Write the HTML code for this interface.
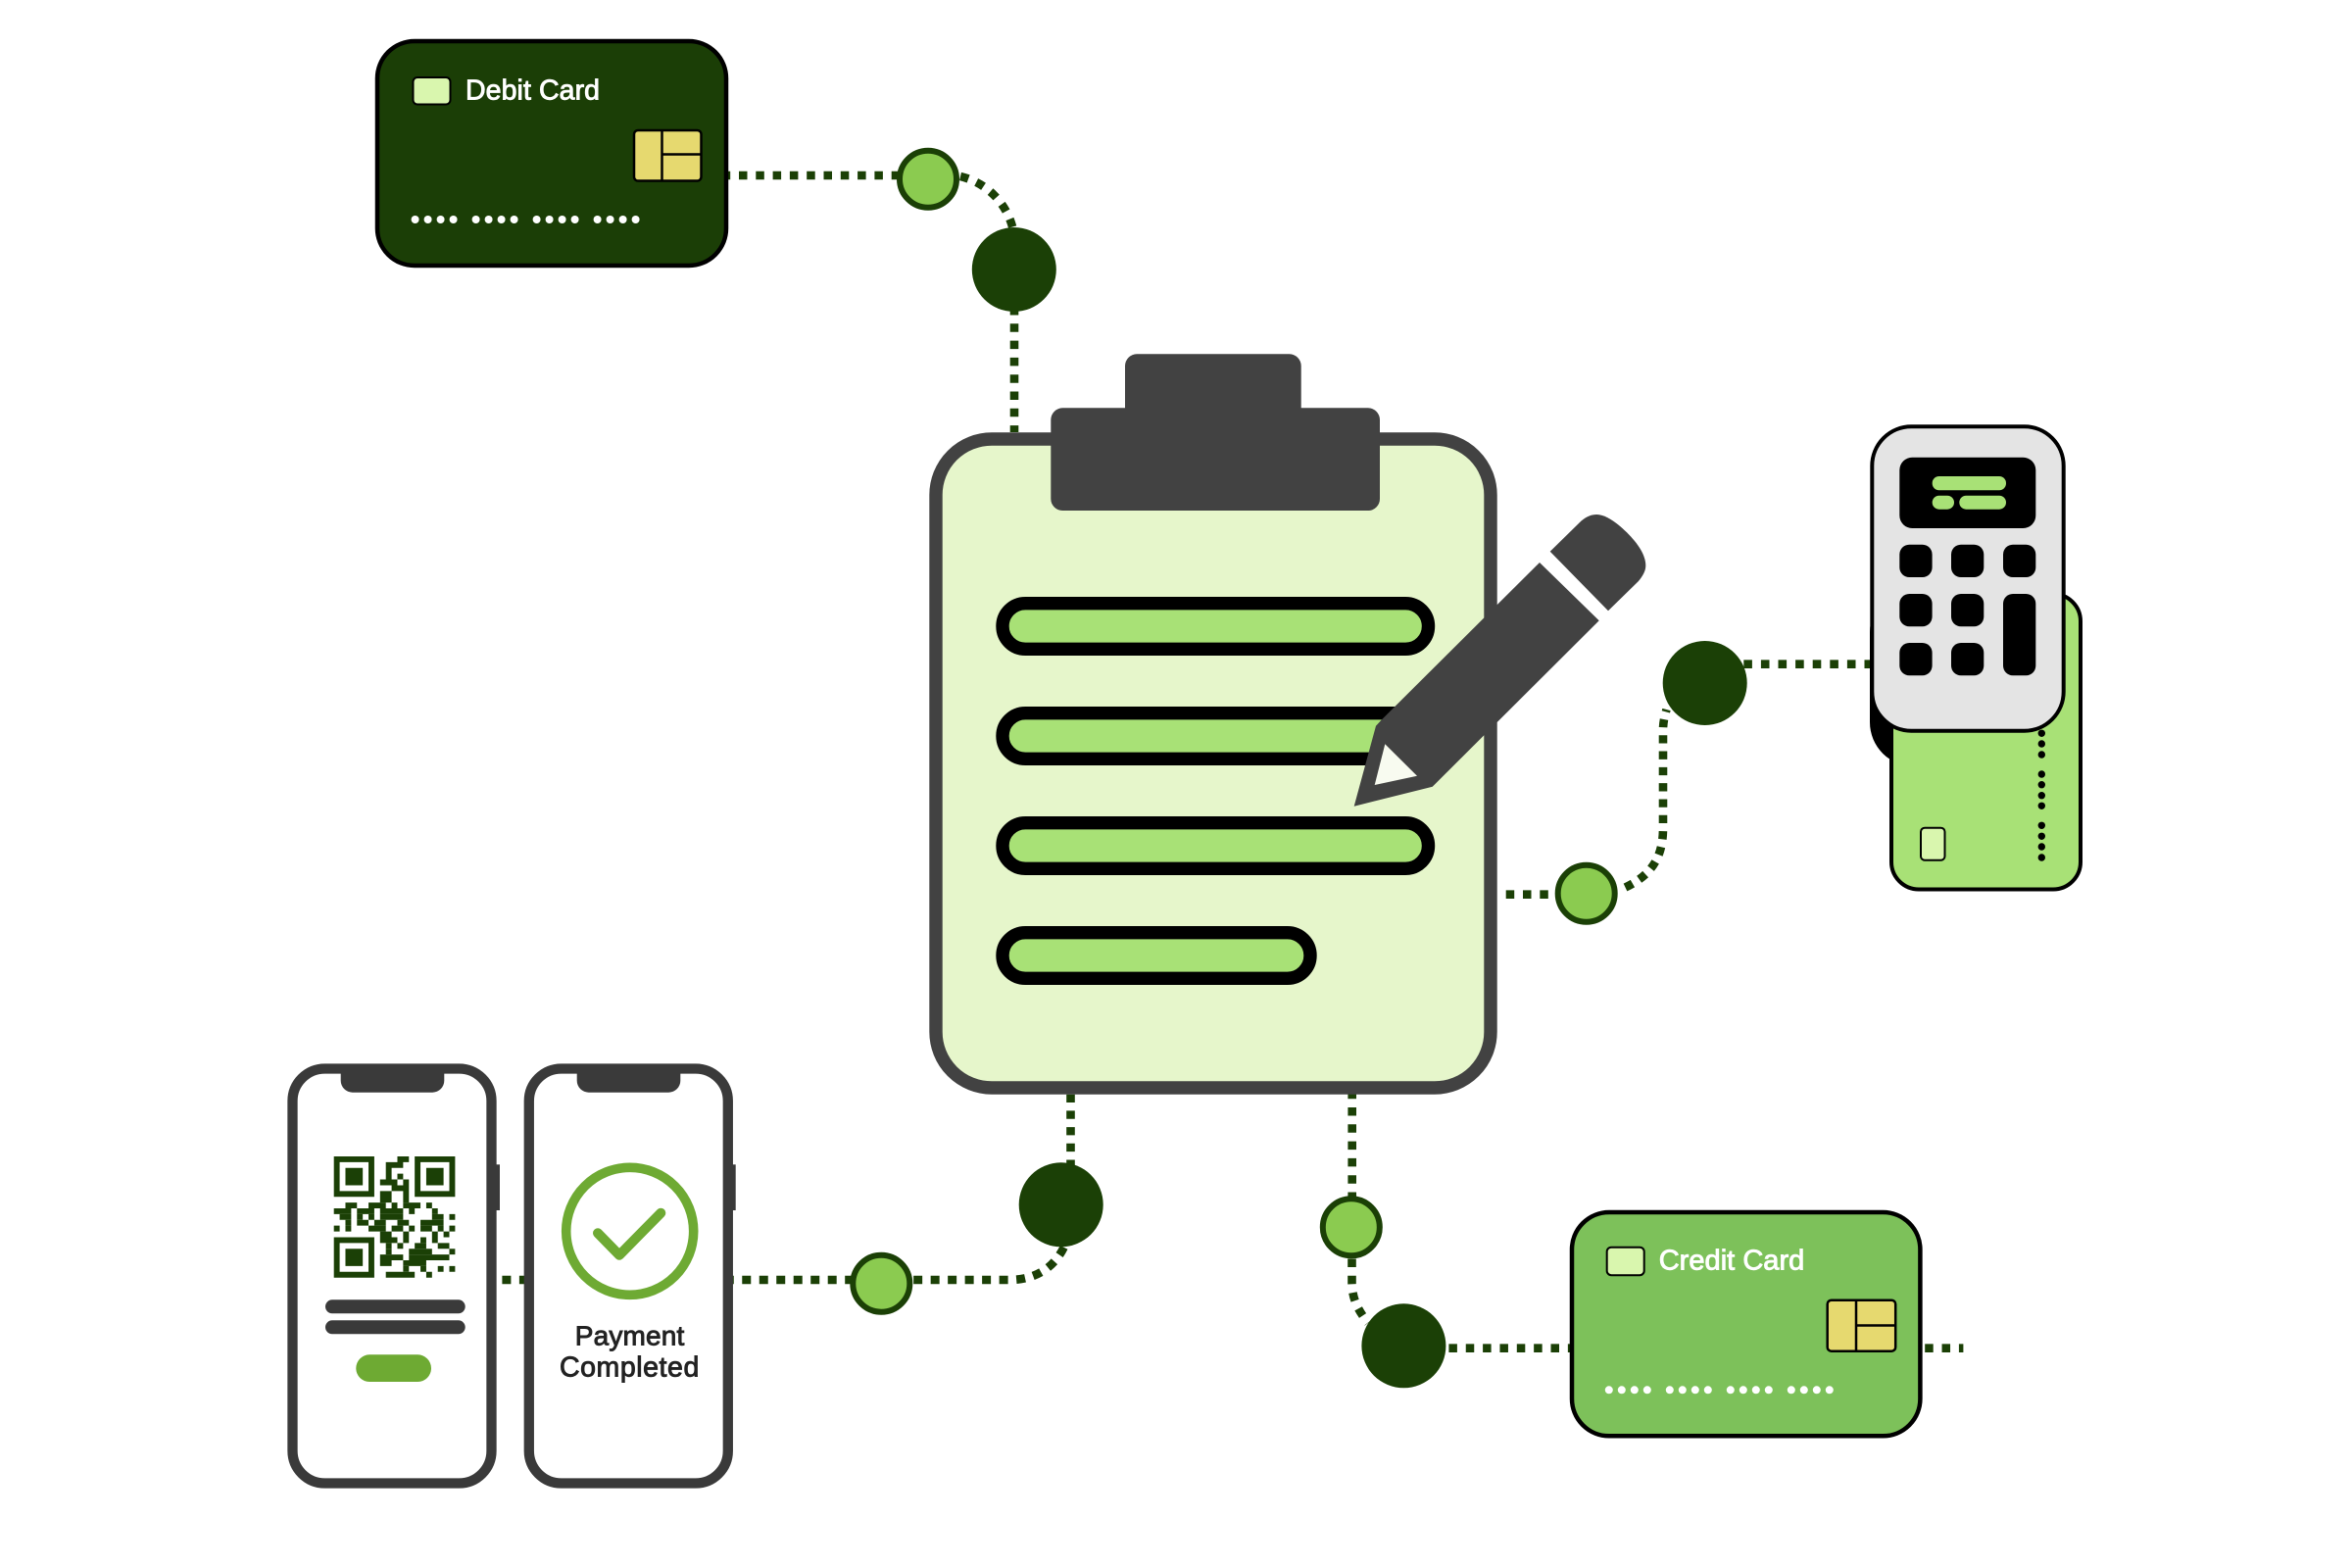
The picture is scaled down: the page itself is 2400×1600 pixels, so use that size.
<!DOCTYPE html>
<html>
<head>
<meta charset="utf-8">
<title>Payment Diagram</title>
<style>
html,body{margin:0;padding:0;background:#fff;width:2400px;height:1600px;overflow:hidden}
svg{display:block}
text{font-family:"Liberation Sans",sans-serif}
.c{fill:none;stroke:#1b4006;stroke-width:8.6;stroke-dasharray:8.5 8.8}
.dk{fill:#1b4006}
.lt{fill:#8bcb50;stroke:#1b4006;stroke-width:6}
.w{fill:#fff}
</style>
</head>
<body>
<svg width="2400" height="1600" viewBox="0 0 2400 1600" xmlns="http://www.w3.org/2000/svg">
<rect width="2400" height="1600" fill="#fff"/>

<!-- connectors -->
<path class="c" d="M736.7 179H950"/>
<path class="c" d="M980 180C1005 186 1027 205 1034 235"/>
<path class="c" d="M1035 313V441"/>
<path class="c" style="stroke-dasharray:8.3 8.4" d="M1092.5 1116.7V1190"/>
<path class="c" style="stroke-dasharray:9 8.49" d="M512.4 1306H1030C1055 1306 1075 1295 1086 1272"/>
<path class="c" d="M1379.7 1112.7V1225"/>
<path class="c" d="M1379.5 1284.5V1310C1380 1325 1385 1336 1396 1350"/>
<path class="c" style="stroke-dasharray:8.5 8.85" d="M1478.4 1375.7H2003.4"/>
<path class="c" style="stroke-dasharray:8.6 9" d="M1779.3 677.7H1908"/>
<path class="c" d="M1536.7 912.7H1590"/>
<path class="c" style="stroke-dasharray:8.3 8" d="M1658.5 905.5C1685 893 1697 875 1697 845V745C1697 738 1698 733 1700.5 724"/>

<!-- circles -->
<circle class="lt" cx="947" cy="182.7" r="29"/>
<circle class="dk" cx="1034.8" cy="275" r="43"/>
<circle class="dk" cx="1082.7" cy="1229.3" r="43"/>
<circle class="lt" cx="899.3" cy="1309.7" r="29"/>
<circle class="lt" cx="1378.8" cy="1252.3" r="29"/>
<circle class="dk" cx="1432.4" cy="1373.3" r="43"/>
<circle class="dk" cx="1739.7" cy="697" r="43"/>
<circle class="lt" cx="1618.7" cy="911.7" r="29"/>

<!-- debit card -->
<rect x="385" y="42" width="356" height="229" rx="38" fill="#1b3e06" stroke="#000" stroke-width="4.5"/>
<rect x="421.5" y="79" width="38" height="27.5" rx="4.5" fill="#d9f6ae" stroke="#000" stroke-width="2"/>
<text x="475" y="101.7" font-size="28.5" fill="#fff" stroke="#fff" stroke-width=".9" textLength="137" lengthAdjust="spacing">Debit Card</text>
<rect x="647" y="133" width="68.5" height="51.5" rx="4" fill="#e6d96f" stroke="#000" stroke-width="2.5"/>
<path d="M675.5 133V184.5M675.5 157.5H715.5" fill="none" stroke="#000" stroke-width="2.5"/>
<g class="w">
<circle cx="423.6" cy="224" r="4"/><circle cx="436.6" cy="224" r="4"/><circle cx="449.6" cy="224" r="4"/><circle cx="462.6" cy="224" r="4"/>
<circle cx="485.6" cy="224" r="4"/><circle cx="498.6" cy="224" r="4"/><circle cx="511.6" cy="224" r="4"/><circle cx="524.6" cy="224" r="4"/>
<circle cx="547.6" cy="224" r="4"/><circle cx="560.6" cy="224" r="4"/><circle cx="573.6" cy="224" r="4"/><circle cx="586.6" cy="224" r="4"/>
<circle cx="609.6" cy="224" r="4"/><circle cx="622.6" cy="224" r="4"/><circle cx="635.6" cy="224" r="4"/><circle cx="648.6" cy="224" r="4"/>
</g>

<!-- credit card -->
<rect x="1604" y="1237" width="355.4" height="228.3" rx="38" fill="#7dc15a" stroke="#000" stroke-width="4.5"/>
<rect x="1639.7" y="1272.7" width="38" height="28.5" rx="4.5" fill="#d9f6ae" stroke="#000" stroke-width="2"/>
<text x="1692.7" y="1295.7" font-size="29" fill="#fff" stroke="#fff" stroke-width=".9" textLength="148.6" lengthAdjust="spacing">Credit Card</text>
<rect x="1864.7" y="1326.7" width="69.5" height="52" rx="4" fill="#e6d96f" stroke="#000" stroke-width="2.5"/>
<path d="M1894 1326.7V1378.7M1894 1352.5H1934.2" fill="none" stroke="#000" stroke-width="2.5"/>
<g class="w">
<circle cx="1641.8" cy="1418.3" r="4"/><circle cx="1654.8" cy="1418.3" r="4"/><circle cx="1667.8" cy="1418.3" r="4"/><circle cx="1680.8" cy="1418.3" r="4"/>
<circle cx="1703.8" cy="1418.3" r="4"/><circle cx="1716.8" cy="1418.3" r="4"/><circle cx="1729.8" cy="1418.3" r="4"/><circle cx="1742.8" cy="1418.3" r="4"/>
<circle cx="1765.8" cy="1418.3" r="4"/><circle cx="1778.8" cy="1418.3" r="4"/><circle cx="1791.8" cy="1418.3" r="4"/><circle cx="1804.8" cy="1418.3" r="4"/>
<circle cx="1827.8" cy="1418.3" r="4"/><circle cx="1840.8" cy="1418.3" r="4"/><circle cx="1853.8" cy="1418.3" r="4"/><circle cx="1866.8" cy="1418.3" r="4"/>
</g>

<!-- clipboard -->
<rect x="955" y="448" width="566" height="662" rx="57" fill="#e6f6cb" stroke="#424242" stroke-width="13.4"/>
<rect x="1148" y="361.3" width="179.7" height="90" rx="12" fill="#424242"/>
<rect x="1072.3" y="416.3" width="335.7" height="104.7" rx="12" fill="#424242"/>
<g fill="#a8e176" stroke="#000" stroke-width="13.4">
<rect x="1023" y="615.7" width="434.5" height="46.6" rx="23.3"/>
<rect x="1023" y="727.7" width="434.5" height="46.6" rx="23.3"/>
<rect x="1023" y="839.7" width="434.5" height="46.6" rx="23.3"/>
<rect x="1023" y="951.7" width="314" height="46.6" rx="23.3"/>
</g>

<!-- pencil -->
<path d="M1571 574L1631.7 633.3L1461.7 802.7L1381.7 822.7L1404 740.7L1410 734.3Z" fill="#424242"/>
<path d="M1413.3 759.3L1446 791.7L1402.7 801Z" fill="#f8fbf0"/>
<path d="M1581.7 562.7L1613.3 531.7C1619.3 526.7 1624.3 525 1629.3 525C1638.3 525 1650 533.3 1660 543.3C1671.7 555 1679.3 566.7 1679.3 577.3C1679.3 582.7 1676 588.3 1671.7 593.3L1641 623.3Z" fill="#424242"/>

<!-- terminal + card -->
<rect x="1908" y="600" width="110" height="182" rx="45" fill="#000"/>
<rect x="1930" y="606" width="193" height="301.5" rx="28" fill="#a8e176" stroke="#000" stroke-width="4"/>
<rect x="1960" y="844.7" width="24.5" height="33" rx="4" fill="#d9f6ae" stroke="#000" stroke-width="2"/>
<g fill="#000">
<circle cx="2083.3" cy="748.3" r="3.7"/><circle cx="2083.3" cy="759" r="3.7"/><circle cx="2083.3" cy="770" r="3.7"/>
<circle cx="2083.3" cy="790" r="3.7"/><circle cx="2083.3" cy="800.7" r="3.7"/><circle cx="2083.3" cy="811.7" r="3.7"/><circle cx="2083.3" cy="822.3" r="3.7"/>
<circle cx="2083.3" cy="842.3" r="3.7"/><circle cx="2083.3" cy="853.3" r="3.7"/><circle cx="2083.3" cy="864" r="3.7"/><circle cx="2083.3" cy="875" r="3.7"/>
</g>
<rect x="1910.3" y="435.3" width="195.4" height="310.4" rx="40" fill="#e4e4e4" stroke="#000" stroke-width="4"/>
<rect x="1938.3" y="466.7" width="139" height="72.3" rx="13" fill="#000"/>
<rect x="1971.7" y="486" width="75.3" height="14.3" rx="7" fill="#a8e176"/>
<rect x="1971.7" y="505.7" width="22.3" height="14" rx="7" fill="#a8e176"/>
<rect x="1999.3" y="505.7" width="47.7" height="14" rx="7" fill="#a8e176"/>
<g fill="#000">
<rect x="1938.3" y="555.7" width="33.3" height="33.3" rx="10"/>
<rect x="1991" y="555.7" width="33.3" height="33.3" rx="10"/>
<rect x="2044" y="555.7" width="33.3" height="33.3" rx="10"/>
<rect x="1938.3" y="606" width="33.3" height="33.3" rx="10"/>
<rect x="1991" y="606" width="33.3" height="33.3" rx="10"/>
<rect x="2044" y="606" width="33.3" height="83.3" rx="10"/>
<rect x="1938.3" y="656" width="33.3" height="33.3" rx="10"/>
<rect x="1991" y="656" width="33.3" height="33.3" rx="10"/>
</g>

<!-- phones -->
<rect x="505" y="1188.3" width="5" height="46.7" fill="#3a3a3a"/>
<rect x="746" y="1188.3" width="4.7" height="46.7" fill="#3a3a3a"/>
<rect x="298.5" y="1090.5" width="203" height="423" rx="33" fill="#fff" stroke="#3a3a3a" stroke-width="10.3"/>
<rect x="539.8" y="1090.5" width="203" height="423" rx="33" fill="#fff" stroke="#3a3a3a" stroke-width="10.3"/>
<path d="M347.7 1092H453.3V1102.7A12 12 0 0 1 441.3 1114.7H359.7A12 12 0 0 1 347.7 1102.7Z" fill="#3a3a3a"/>
<path d="M588.7 1092H694.3V1102.7A12 12 0 0 1 682.3 1114.7H600.7A12 12 0 0 1 588.7 1102.7Z" fill="#3a3a3a"/>

<!-- QR -->
<g transform="translate(340.7 1180) scale(5.89)" fill="#1b4006">
<path fill-rule="evenodd" d="M0 0h7v7h-7zM1 1v5h5v-5zM14 0h7v7h-7zM15 1v5h5v-5zM0 14h7v7h-7zM1 15v5h5v-5z"/>
<path d="M2 2h3v3h-3zM16 2h3v3h-3zM2 16h3v3h-3z"/>
<path d="M11 0h2v1h-2zM9 1h3v1h-3zM9 2h1v1h-1zM9 3h1v1h-1zM11 3h1v1h-1zM8 4h3v1h-3zM12 4h1v1h-1zM10 5h3v1h-3zM8 6h2v1h-2zM12 6h1v1h-1zM8 7h2v1h-2zM12 7h1v1h-1z"/>
<path d="M2 8h2v1h-2zM6 8h3v1h-3zM10 8h1v1h-1zM12 8h1v1h-1zM13 8h2v1h-2zM16 8h1v1h-1z"/>
<path d="M0 9h3v1h-3zM4 9h3v1h-3zM8 9h4v1h-4zM13 9h1v1h-1zM17 9h1v1h-1z"/>
<path d="M1 10h2v1h-2zM4 10h1v1h-1zM6 10h1v1h-1zM8 10h4v1h-4zM17 10h2v1h-2zM20 10h1v1h-1z"/>
<path d="M2 11h1v1h-1zM4 11h2v1h-2zM7 11h2v1h-2zM11 11h2v1h-2zM15 11h4v1h-4z"/>
<path d="M0 12h1v1h-1zM2 12h1v1h-1zM6 12h3v1h-3zM10 12h2v1h-2zM13 12h1v1h-1zM15 12h2v1h-2zM18 12h1v1h-1zM20 12h1v1h-1z"/>
<path d="M8 13h2v1h-2zM12 13h1v1h-1zM17 13h1v1h-1zM19 13h1v1h-1z"/>
<path d="M8 14h3v1h-3zM12 14h1v1h-1zM15 14h1v1h-1zM17 14h1v1h-1z"/>
<path d="M9 15h1v1h-1zM11 15h1v1h-1zM14 15h2v1h-2zM18 15h2v1h-2z"/>
<path d="M9 16h1v1h-1zM13 16h4v1h-4zM20 16h1v1h-1z"/>
<path d="M8 17h4v1h-4zM13 17h7v1h-7z"/>
<path d="M8 18h2v1h-2zM12 18h4v1h-4z"/>
<path d="M12 19h1v1h-1zM15 19h1v1h-1zM18 19h1v1h-1zM20 19h1v1h-1z"/>
<path d="M9 20h5v1h-5zM16 20h1v1h-1z"/>
</g>
<rect x="332" y="1326.3" width="142.7" height="14" rx="7" fill="#3a3a3a"/>
<rect x="332" y="1347.3" width="142.7" height="14" rx="7" fill="#3a3a3a"/>
<rect x="363.3" y="1382.3" width="76.7" height="27.7" rx="13.8" fill="#6eaa33"/>

<!-- completed -->
<circle cx="642.7" cy="1256.3" r="65" fill="none" stroke="#6eaa33" stroke-width="9.6"/>
<path d="M610 1258.3L632 1280.7L674.3 1237.7" fill="none" stroke="#6eaa33" stroke-width="10" stroke-linecap="round" stroke-linejoin="round"/>
<text x="586.7" y="1372.5" font-size="28" fill="#222" stroke="#222" stroke-width=".9" textLength="111.6" lengthAdjust="spacing">Payment</text>
<text x="571" y="1404.5" font-size="28.5" fill="#222" stroke="#222" stroke-width=".9" textLength="142.3" lengthAdjust="spacing">Completed</text>
</svg>
</body>
</html>
